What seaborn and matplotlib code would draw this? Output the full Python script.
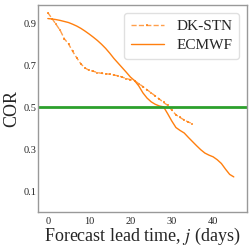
import numpy as np
import pandas as pd
import matplotlib
matplotlib.use("Agg")
import matplotlib.pyplot as plt
import seaborn as sns

# lead time in days
dk_days = list(range(0, 36))
dk_cor = [0.953, 0.925, 0.897, 0.868, 0.828, 0.804, 0.768, 0.737, 0.708, 0.689,
          0.677, 0.673, 0.667, 0.663, 0.661, 0.659, 0.655, 0.651, 0.645, 0.638,
          0.633, 0.628, 0.614, 0.600, 0.585, 0.570, 0.555, 0.540, 0.524, 0.510,
          0.487, 0.465, 0.452, 0.440, 0.430, 0.423]

ec_days = list(range(0, 46))
ec_cor = [0.925, 0.923, 0.920, 0.916, 0.911, 0.906, 0.898, 0.889, 0.878, 0.865,
          0.851, 0.836, 0.820, 0.802, 0.782, 0.759, 0.734, 0.712, 0.690, 0.668,
          0.645, 0.628, 0.603, 0.570, 0.545, 0.527, 0.515, 0.507, 0.503, 0.470,
          0.435, 0.404, 0.390, 0.378, 0.357, 0.337, 0.317, 0.298, 0.282, 0.272,
          0.264, 0.250, 0.232, 0.205, 0.180, 0.168]

threshold = 0.5

sns.set_style("white")
plt.rcParams['font.family'] = ['Liberation Serif', 'DejaVu Serif']
plt.rcParams['mathtext.fontset'] = 'stix'

df_dk = pd.DataFrame({'day': dk_days, 'cor': dk_cor})
df_ec = pd.DataFrame({'day': ec_days, 'cor': ec_cor})

fig, ax = plt.subplots(figsize=(2.49, 2.48), dpi=100)
sns.lineplot(data=df_dk, x='day', y='cor', ax=ax, color='C1', linestyle='--',
             marker='s', markersize=2, markeredgewidth=0, linewidth=1,
             alpha=0.75, label='DK-STN')
sns.lineplot(data=df_ec, x='day', y='cor', ax=ax, color='C1', linewidth=1,
             label='ECMWF')
ax.axhline(threshold, color='C2', linewidth=2)

ax.set_xlim(-2.3, 48.2)
ax.set_ylim(0.0, 0.99)
ax.set_xticks([0, 10, 20, 30, 40])
ax.set_yticks([0.1, 0.3, 0.5, 0.7, 0.9])
ax.tick_params(axis='both', labelsize=7.5, length=2, width=0.6, color='0.6', pad=1.5)
ax.tick_params(axis='y', length=0)
for s in ax.spines.values():
    s.set_color('0.6')
    s.set_linewidth(1)

ax.set_xlabel('Forecast lead time, $j$ (days)', fontsize=13, labelpad=0)
ax.set_ylabel('COR', fontsize=13, labelpad=2)
ax.legend(loc='upper right', fontsize=11, frameon=True, handlelength=2.2,
          borderpad=0.45, labelspacing=0.35, handletextpad=0.8,
          edgecolor='0.85', fancybox=True)

fig.subplots_adjust(left=0.154, right=0.992, top=0.98, bottom=0.145)
fig.savefig('out.png', dpi=100)
